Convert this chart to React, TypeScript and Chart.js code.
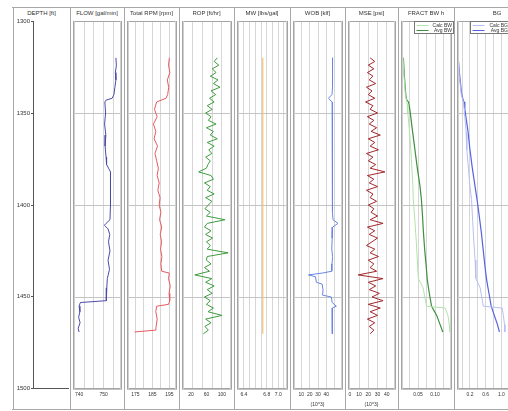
import React, { useEffect, useRef } from "react";
import { Chart, registerables } from "chart.js";
Chart.register(...registerables);

const FONT = "'Liberation Sans', Arial, sans-serif";
const PLOT_TOP = 21;
const PLOT_BOTTOM = 389;
const PAD = 4;
const AXIS_H = 22;

// ---------- data ----------
const DEPTH_TICKS = [1300, 1350, 1400, 1450, 1500];

const FLOW_DEPTH = [1320,1324,1328,1332,1336,1340,1342,1343,1344,1350,1356,1362,1368,1374,1378,1380,1382,1390,1400,1408,1410,1411,1413,1416,1420,1425,1430,1435,1440,1445,1450,1452,1453,1455,1458,1461,1464,1467,1469];
const FLOW = [755.0,755.2,754.8,755.0,754.6,754.2,753.5,751.0,750.5,750.8,750.4,750.9,750.6,751.0,751.2,752.0,752.8,752.9,752.7,752.6,751.0,750.3,751.8,752.5,752.0,752.6,751.8,752.4,751.5,751.3,751.2,751.0,740.5,740.0,740.3,739.8,740.4,739.6,740.0];

const RPM_DEPTH = [1320,1324,1328,1332,1336,1340,1342,1344,1348,1352,1356,1360,1364,1368,1372,1376,1380,1384,1388,1392,1396,1400,1404,1408,1412,1416,1420,1424,1428,1432,1436,1437,1440,1444,1448,1452,1454,1455,1458,1462,1466,1468,1469];
const RPM = [195.0,194.5,195.3,193.8,194.6,194.0,193.0,187.5,186.2,187.8,185.6,187.0,186.0,188.0,186.5,187.5,188.5,187.8,189.0,188.2,189.5,189.0,190.0,189.2,190.5,189.6,190.4,189.8,190.6,190.0,190.5,195.0,194.5,195.5,194.8,195.2,194.5,187.5,187.0,187.8,187.2,187.0,174.5];

const DEPTH_2FT = [1320,1322,1324,1326,1328,1330,1332,1334,1336,1338,1340,1342,1344,1346,1348,1350,1352,1354,1356,1358,1360,1362,1364,1366,1368,1370,1372,1374,1376,1378,1380,1382,1384,1386,1388,1390,1392,1394,1396,1398,1400,1402,1404,1406,1408,1410,1412,1414,1416,1418,1420,1422,1424,1426,1428,1430,1432,1434,1436,1438,1440,1442,1444,1446,1448,1450,1452,1454,1456,1458,1460,1462,1464,1466,1468,1470];
const ROP = [88,80,92,75,85,70,90,78,95,72,84,68,80,62,75,58,72,65,85,60,78,70,88,62,80,66,74,58,70,64,60,40,72,78,55,70,62,80,58,74,65,56,70,60,108,62,55,72,58,76,60,70,62,116,62,60,72,55,68,30,74,58,80,62,75,55,70,60,78,64,100,58,72,56,65,52];
const MSE = [22,27,20,26,19,25,21,28,18,24,20,27,17,25,22,30,19,26,21,29,23,33,20,27,22,31,18,25,20,28,22,38,19,26,21,30,18,25,22,29,20,26,23,30,22,36,19,27,21,30,24,18,27,22,31,20,26,22,29,9,36,20,28,21,32,24,36,20,33,22,30,19,27,21,26,22];

const MW_DEPTH = [1320, 1470];
const MW = [6.73, 6.73];

const WOB_DEPTH = [1320,1324,1328,1332,1336,1340,1342,1344,1350,1356,1362,1368,1374,1380,1386,1392,1398,1404,1408,1410,1412,1418,1424,1428,1432,1436,1437,1438,1439,1442,1443,1446,1449,1450,1453,1455,1456,1460,1464,1468,1470];
const WOB = [47.5,47.0,47.8,47.2,47.6,46.8,42.5,47.0,47.5,47.0,47.8,47.2,47.6,47.0,47.4,47.8,47.2,47.0,48.0,54.0,47.5,47.0,46.5,47.5,46.8,46.5,35.0,18.5,27.0,28.0,35.0,36.0,35.5,46.0,47.0,52.0,47.0,47.5,47.0,47.2,47.0];

const AVG_DEPTH = [1320,1330,1340,1343,1344,1348,1360,1370,1380,1390,1397,1405,1415,1425,1433,1440,1444,1450,1455,1460,1465,1469];
const CALC_DEPTH = [1320,1330,1340,1343,1345,1350,1360,1370,1380,1390,1397,1409,1420,1430,1440,1445,1450,1455,1456,1460,1465,1469];
const BW_AVG = [0.007,0.010,0.014,0.017,0.022,0.026,0.034,0.041,0.048,0.056,0.060,0.063,0.066,0.070,0.074,0.077,0.080,0.085,0.090,0.105,0.115,0.123];
const BW_CALC = [0.006,0.009,0.013,0.016,0.018,0.020,0.025,0.029,0.032,0.035,0.036,0.041,0.045,0.048,0.051,0.065,0.070,0.075,0.130,0.138,0.142,0.144];
const BG_AVG = [-0.10,-0.06,-0.01,0.03,0.05,0.07,0.15,0.20,0.26,0.33,0.38,0.43,0.49,0.54,0.58,0.62,0.65,0.70,0.74,0.82,0.90,0.95];
const BG_CALC = [-0.10,-0.07,-0.02,0.02,0.04,0.06,0.10,0.12,0.16,0.20,0.24,0.27,0.30,0.33,0.35,0.46,0.50,0.54,1.02,1.05,1.08,1.09];

const FLOW_TICKS = [740, 750];
const RPM_TICKS = [175, 185, 195];
const ROP_TICKS = [20, 60, 100];
const MW_TICKS = [6.4, 6.8, 7.0];
const WOB_TICKS = [10, 20, 30, 40];
const MSE_TICKS = [0, 10, 20, 30, 40];
const BW_TICKS = [0.05, 0.10];
const BG_TICKS = [0.2, 0.6, 1.0];

// ---------- components ----------
interface Series { depth: number[]; values: number[]; color: string; width: number; label?: string }
interface TrackDef {
  left: number; right: number; min: number; max: number; grid: number[];
  ticks: number[]; dec: number; series: Series[]; legend?: boolean;
}

const near = (arr: number[], v: number) => arr.some((a) => Math.abs(a - v) < 1e-6);

function Track({ def }: { def: TrackDef }) {
  const ref = useRef<HTMLCanvasElement | null>(null);
  useEffect(() => {
    const allTicks = Array.from(new Set([...def.grid, ...def.ticks])).sort((a, b) => a - b);
    const legendPlugin = {
      id: "boxLegend",
      afterDraw(chart: any) {
        if (!def.legend) return;
        const { ctx, chartArea: a } = chart;
        const w = 39, h = 12;
        const x0 = Math.round(a.left) + 13.5;
        const y0 = Math.round(a.top) + 0.5;
        ctx.save();
        ctx.fillStyle = "#fff";
        ctx.fillRect(x0, y0, w, h);
        ctx.strokeStyle = "#777";
        ctx.lineWidth = 1;
        ctx.strokeRect(x0, y0, w, h);
        ctx.font = `5px ${FONT}`;
        ctx.textAlign = "right";
        ctx.textBaseline = "middle";
        def.series.forEach((s, i) => {
          const yy = y0 + 3.5 + i * 5;
          ctx.strokeStyle = s.color;
          ctx.lineWidth = 1;
          ctx.beginPath();
          ctx.moveTo(x0 + 2, yy + 0.5);
          ctx.lineTo(x0 + 14, yy + 0.5);
          ctx.stroke();
          ctx.fillStyle = "#333";
          ctx.fillText(s.label || "", x0 + w - 1.5, yy + 0.5);
        });
        ctx.restore();
      },
    };
    const framePlugin = {
      id: "frame",
      afterDraw(chart: any) {
        const { ctx, chartArea: a } = chart;
        ctx.save();
        ctx.strokeStyle = "#a4a4a4";
        ctx.lineWidth = 1;
        ctx.strokeRect(Math.round(a.left) + 0.5, Math.round(a.top) + 0.5, Math.round(a.right - a.left) - 1, Math.round(a.bottom - a.top) - 1);
        ctx.strokeStyle = "#d0d0d0";
        ctx.beginPath();
        ctx.moveTo(Math.round(a.left) + 1.5, a.top);
        ctx.lineTo(Math.round(a.left) + 1.5, a.bottom);
        ctx.moveTo(Math.round(a.right) - 1.5, a.top);
        ctx.lineTo(Math.round(a.right) - 1.5, a.bottom);
        ctx.stroke();
        ctx.restore();
      },
    };
    const chart = new Chart(ref.current as HTMLCanvasElement, {
      type: "scatter",
      data: {
        datasets: def.series.map((s) => ({
          label: s.label,
          data: s.depth.map((d, i) => ({ x: s.values[i], y: d })),
          showLine: true,
          borderColor: s.color,
          backgroundColor: s.color,
          borderWidth: s.width,
          pointRadius: 0,
          tension: 0,
          fill: false,
        })),
      },
      options: {
        animation: false,
        responsive: false,
        maintainAspectRatio: false,
        layout: { padding: { left: PAD, right: PAD, top: PAD, bottom: 0 } },
        plugins: { legend: { display: false }, tooltip: { enabled: false }, title: { display: false } },
        scales: {
          x: {
            type: "linear",
            position: "bottom",
            min: def.min,
            max: def.max,
            afterBuildTicks: (s: any) => { s.ticks = allTicks.map((v) => ({ value: v })); },
            afterFit: (s: any) => { s.height = AXIS_H; },
            grid: {
              drawTicks: false,
              color: (c: any) => (c.tick && near(def.grid, c.tick.value) ? "#d6d6d6" : "rgba(0,0,0,0)"),
              lineWidth: 1,
            },
            border: { display: false },
            ticks: {
              autoSkip: false,
              maxRotation: 0,
              padding: 3,
              color: "#333",
              font: { size: 5, family: FONT },
              callback: (v: any) => (near(def.ticks, Number(v)) ? Number(v).toFixed(def.dec) : ""),
            },
          },
          y: {
            type: "linear",
            min: 1300,
            max: 1500,
            reverse: true,
            afterBuildTicks: (s: any) => { s.ticks = DEPTH_TICKS.map((v) => ({ value: v })); },
            afterFit: (s: any) => { s.width = 0; },
            grid: { drawTicks: false, color: "#c4c4c4", lineWidth: 1 },
            border: { display: false },
            ticks: { display: false },
          },
        },
      },
      plugins: [framePlugin, legendPlugin],
    } as any);
    return () => chart.destroy();
  }, []);
  const w = def.right - def.left + 2 * PAD;
  const h = PLOT_BOTTOM - PLOT_TOP + PAD + AXIS_H;
  return (
    <canvas
      ref={ref}
      width={w}
      height={h}
      style={{ position: "absolute", left: def.left - PAD, top: PLOT_TOP - PAD, width: w, height: h }}
    />
  );
}

function DepthTrack() {
  const ref = useRef<HTMLCanvasElement | null>(null);
  const left = 13, plotLeft = 33, plotRight = 68;
  useEffect(() => {
    const chart = new Chart(ref.current as HTMLCanvasElement, {
      type: "scatter",
      data: { datasets: [{ data: [] }] },
      options: {
        animation: false,
        responsive: false,
        maintainAspectRatio: false,
        layout: { padding: { left: 0, right: PAD, top: PAD, bottom: PAD } },
        plugins: { legend: { display: false }, tooltip: { enabled: false } },
        scales: {
          x: {
            type: "linear", min: 0, max: 1,
            afterFit: (s: any) => { s.height = 0; },
            grid: { display: false, drawTicks: false },
            border: { display: true, color: "#555", width: 1 },
            ticks: { display: false },
          },
          y: {
            type: "linear", min: 1300, max: 1500, reverse: true,
            afterBuildTicks: (s: any) => { s.ticks = DEPTH_TICKS.map((v) => ({ value: v })); },
            afterFit: (s: any) => { s.width = plotLeft - left; },
            grid: { drawOnChartArea: false, drawTicks: true, tickLength: 2, color: "#555" },
            border: { display: true, color: "#555", width: 1 },
            ticks: { padding: 1, color: "#333", font: { size: 6, family: FONT }, callback: (v: any) => String(v) },
          },
        },
      },
    } as any);
    return () => chart.destroy();
  }, []);
  const w = plotRight - left + PAD;
  const h = PLOT_BOTTOM - PLOT_TOP + 2 * PAD;
  return (
    <canvas ref={ref} width={w} height={h}
      style={{ position: "absolute", left, top: PLOT_TOP - PAD, width: w, height: h }} />
  );
}

const TRACKS: { name: string; x0: number; x1: number; sub?: string; def?: TrackDef }[] = [
  { name: "DEPTH [ft]", x0: 13, x1: 70 },
  { name: "FLOW [gal/min]", x0: 70, x1: 124, def: { left: 73, right: 122, min: 737.5, max: 757.5, grid: [742, 746, 750, 754], ticks: FLOW_TICKS, dec: 0, series: [{ depth: FLOW_DEPTH, values: FLOW, color: "#4b4ba6", width: 1 }] } },
  { name: "Total RPM [rpm]", x0: 124, x1: 179, def: { left: 127, right: 177, min: 170, max: 199.5, grid: [175, 180, 185, 190, 195], ticks: RPM_TICKS, dec: 0, series: [{ depth: RPM_DEPTH, values: RPM, color: "#e8595f", width: 1 }] } },
  { name: "ROP [ft/hr]", x0: 179, x1: 234, def: { left: 182, right: 232, min: -3, max: 126, grid: [0, 25, 50, 75, 100], ticks: ROP_TICKS, dec: 0, series: [{ depth: DEPTH_2FT, values: ROP, color: "#3f9c3f", width: 1 }] } },
  { name: "MW [lbs/gal]", x0: 234, x1: 290, def: { left: 237, right: 288, min: 6.28, max: 7.17, grid: [6.3, 6.4, 6.5, 6.6, 6.7, 6.8, 6.9, 7.0, 7.1], ticks: MW_TICKS, dec: 1, series: [{ depth: MW_DEPTH, values: MW, color: "#f2c274", width: 1.2 }] } },
  { name: "WOB [klf]", x0: 290, x1: 345, sub: "(10^3)", def: { left: 293, right: 343, min: 0, max: 60, grid: [10, 20, 30, 40, 50], ticks: WOB_TICKS, dec: 0, series: [{ depth: WOB_DEPTH, values: WOB, color: "#6a86e2", width: 1 }] } },
  { name: "MSE [psi]", x0: 345, x1: 398, sub: "(10^3)", def: { left: 348, right: 396, min: -2, max: 50, grid: [0, 10, 20, 30, 40], ticks: MSE_TICKS, dec: 0, series: [{ depth: DEPTH_2FT, values: MSE, color: "#a3282c", width: 1 }] } },
  { name: "FRACT BW h", x0: 398, x1: 454, def: { left: 401, right: 452, min: 0, max: 0.15, grid: [0.025, 0.05, 0.075, 0.1, 0.125], ticks: BW_TICKS, dec: 2, legend: true, series: [
    { depth: CALC_DEPTH, values: BW_CALC, color: "#b4e2ac", width: 1, label: "Calc BW" },
    { depth: AVG_DEPTH, values: BW_AVG, color: "#3f8f3f", width: 1.2, label: "Avg BW" },
  ] } },
  { name: "BG", x0: 454, x1: 540, def: { left: 457, right: 512, min: -0.13, max: 1.27, grid: [0, 0.2, 0.4, 0.6, 0.8, 1.0, 1.2], ticks: BG_TICKS, dec: 1, legend: true, series: [
    { depth: CALC_DEPTH, values: BG_CALC, color: "#b8bff2", width: 1, label: "Calc BG" },
    { depth: AVG_DEPTH, values: BG_AVG, color: "#5561e0", width: 1.2, label: "Avg BG" },
  ] } },
];

export default function App() {
  const line = (x: number, y: number, w: number, h: number, c = "#a8a8a8") => (
    <div style={{ position: "absolute", left: x, top: y, width: w, height: h, background: c }} />
  );
  return (
    <div style={{ position: "fixed", left: 0, top: 0, width: 508, height: 411, overflow: "hidden", background: "#fff", fontFamily: FONT }}>
      {line(12, 7, 500, 1)}
      {line(12, 409, 500, 1)}
      {TRACKS.map((t, i) => (
        <React.Fragment key={i}>
          {line(t.x0, 7, 1, 403)}
          <div style={{ position: "absolute", left: t.x0, width: t.x1 - t.x0, top: 10, textAlign: "center", fontSize: 6, lineHeight: "7px", color: "#333", whiteSpace: "nowrap" }}>{t.name}</div>
          {t.sub && (
            <div style={{ position: "absolute", left: t.x0, width: t.x1 - t.x0, top: 401, textAlign: "center", fontSize: 5, lineHeight: "6px", color: "#333" }}>{t.sub}</div>
          )}
          {t.def && <Track def={t.def} />}
        </React.Fragment>
      ))}
      <DepthTrack />
    </div>
  );
}
